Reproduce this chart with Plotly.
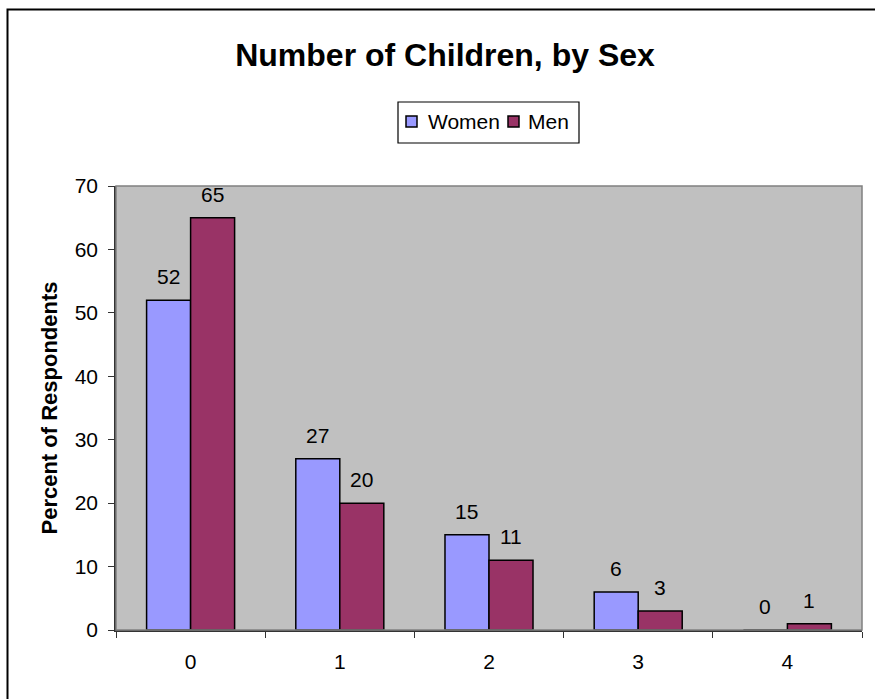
import plotly.graph_objects as go

# Survey results: percent of respondents by number of children
children = ["0", "1", "2", "3", "4"]
women = [52, 27, 15, 6, 0]
men = [65, 20, 11, 3, 1]

series_names = ["Women", "Men"]
series_colors = ["#9999FF", "#993366"]

FONT = "Liberation Sans, Arial, sans-serif"
BARGAP = 0.41

# plot area in pixels, used to place the boxed legend in paper units
FIG_W, FIG_H = 875, 699
L, R, T, B = 116, 862, 186, 630
W, H = R - L, B - T


def px_x(x):
    return (x - L) / W


def px_y(y):
    return (B - y) / H


fig = go.Figure()
for name, vals, color in zip(series_names, [women, men], series_colors):
    fig.add_trace(go.Bar(
        x=children, y=vals, name=name, showlegend=False,
        marker=dict(color=color, line=dict(color="black", width=1.5)),
    ))

# value labels above each bar
half = (1 - BARGAP) / 4
annotations = []
for offset, vals in [(-half, women), (half, men)]:
    for i, v in enumerate(vals):
        annotations.append(dict(
            x=i + offset, y=v, xref="x", yref="y", text=str(v),
            showarrow=False, yanchor="bottom", yshift=10,
            font=dict(family=FONT, size=21, color="black"),
        ))

# legend: framed box with a swatch and a label per series
shapes = [
    # outer frame of the chart
    dict(type="rect", xref="paper", yref="paper",
         x0=px_x(7.5), x1=1.2, y0=-0.3, y1=px_y(9.5),
         line=dict(color="black", width=2), fillcolor="rgba(0,0,0,0)", layer="below"),
    # plot area border
    dict(type="rect", xref="paper", yref="paper", x0=0, x1=1, y0=0, y1=1,
         line=dict(color="#808080", width=1.5), fillcolor="rgba(0,0,0,0)"),
    # legend box
    dict(type="rect", xref="paper", yref="paper",
         x0=px_x(398), x1=px_x(579), y0=px_y(143), y1=px_y(102),
         line=dict(color="black", width=1.2), fillcolor="white"),
]
legend_items = [(406, 426), (508, 526)]
for (sx, tx), name, color in zip(legend_items, series_names, series_colors):
    shapes.append(dict(type="rect", xref="paper", yref="paper",
                       x0=px_x(sx), x1=px_x(sx + 11), y0=px_y(127), y1=px_y(116),
                       line=dict(color="black", width=1.5), fillcolor=color))
    annotations.append(dict(x=px_x(tx), y=px_y(122), xref="paper", yref="paper",
                            text=name, showarrow=False, xanchor="left", yanchor="middle",
                            font=dict(family=FONT, size=21, color="black")))

fig.update_layout(
    width=FIG_W, height=FIG_H,
    margin=dict(l=L, r=FIG_W - R, t=T, b=FIG_H - B),
    paper_bgcolor="white", plot_bgcolor="#C0C0C0",
    barmode="group", bargap=BARGAP, bargroupgap=0,
    font=dict(family=FONT, size=21, color="black"),
    title=dict(text="<b>Number of Children, by Sex</b>", xref="container",
               x=445 / FIG_W, xanchor="center",
               y=1 - 55 / FIG_H, yanchor="middle",
               font=dict(family=FONT, size=32, color="black")),
    showlegend=False,
    annotations=annotations,
    shapes=shapes,
)

fig.update_xaxes(
    type="category", showgrid=False, zeroline=False,
    showline=True, linecolor="#333333", linewidth=1.5,
    ticks="outside", tickson="boundaries", ticklen=6, tickcolor="#333333",
    tickfont=dict(family=FONT, size=21, color="black"), ticklabelstandoff=12,
)
fig.update_yaxes(
    range=[0, 70], dtick=10, showgrid=False, zeroline=False,
    showline=True, linecolor="#333333", linewidth=1.5,
    ticks="outside", ticklen=6, tickcolor="#333333",
    tickfont=dict(family=FONT, size=21, color="black"), ticklabelstandoff=6,
    title=dict(text="<b>Percent of Respondents</b>",
               font=dict(family=FONT, size=22, color="black"), standoff=11),
)

fig.write_html("out.html")
